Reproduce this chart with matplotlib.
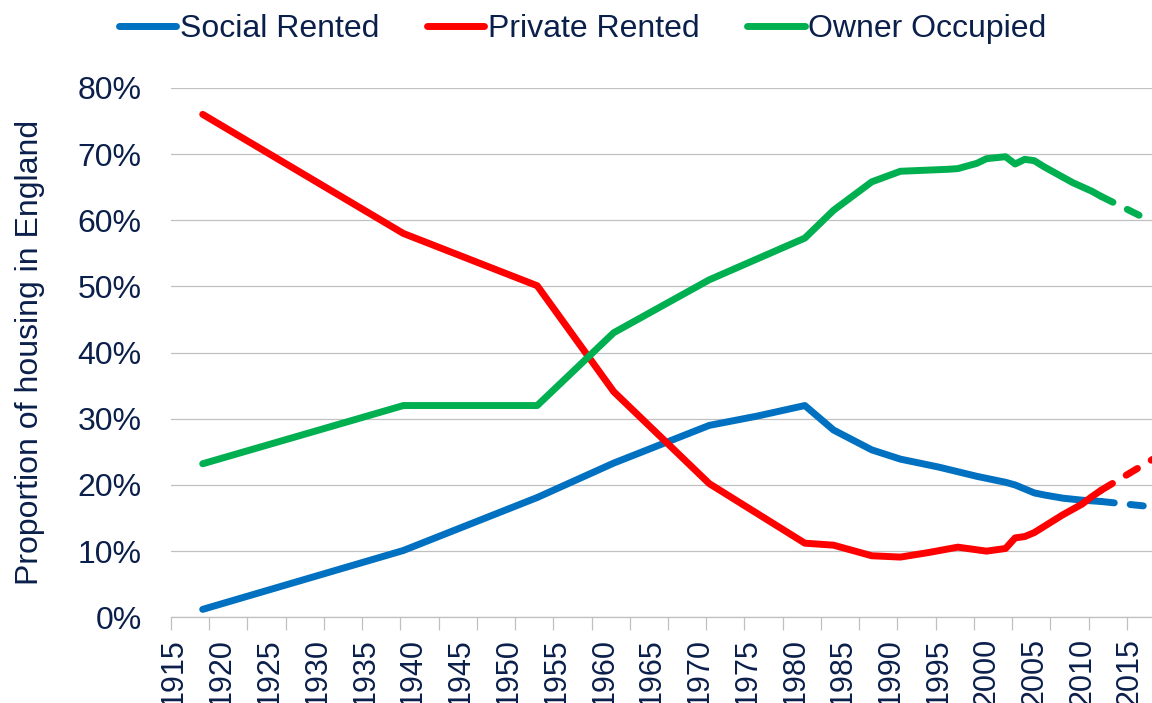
import numpy as np
import matplotlib.pyplot as plt
from matplotlib.ticker import FixedLocator, PercentFormatter

# Data (percent of housing stock)
social_years = [1918, 1939, 1953, 1961, 1971, 1976, 1981, 1984, 1988, 1991, 1995,
                1999, 2002, 2003, 2005, 2006, 2008, 2010, 2012]
social_vals = [1.2, 10.1, 18.1, 23.3, 29.0, 30.4, 32.0, 28.3, 25.3, 23.9, 22.7,
               21.3, 20.4, 20.0, 18.8, 18.5, 18.0, 17.7, 17.5]
social_proj_years = [2012, 2018]
social_proj_vals = [17.5, 16.6]

private_years = [1918, 1939, 1953, 1961, 1971, 1981, 1984, 1988, 1991, 1994, 1997,
                 2000, 2002, 2003, 2004, 2005, 2006, 2007, 2008, 2009, 2010, 2011, 2012]
private_vals = [76.0, 58.0, 50.1, 34.1, 20.2, 11.2, 10.9, 9.3, 9.1, 9.8, 10.6,
                10.0, 10.4, 12.0, 12.2, 12.8, 13.7, 14.6, 15.5, 16.3, 17.1, 18.2, 19.2]
private_proj_years = [2012, 2018]
private_proj_vals = [19.2, 24.4]

owner_years = [1918, 1939, 1953, 1961, 1971, 1981, 1984, 1988, 1991, 1996, 1997,
               1999, 2000, 2002, 2003, 2004, 2005, 2006, 2007, 2009, 2011, 2012]
owner_vals = [23.2, 32.0, 32.0, 43.0, 51.0, 57.3, 61.5, 65.8, 67.4, 67.7, 67.8,
              68.6, 69.3, 69.6, 68.5, 69.2, 69.0, 68.1, 67.3, 65.7, 64.4, 63.6]
owner_proj_years = [2012, 2018]
owner_proj_vals = [63.6, 59.3]

label_years = list(range(1915, 2020, 5))
y_ticks = [0, 10, 20, 30, 40, 50, 60, 70, 80]

navy = '#0b1f4b'
blue, red, green = '#0070C0', '#FF0000', '#00B050'

plt.rcParams['font.family'] = ['Liberation Sans', 'DejaVu Sans']

fig = plt.figure(figsize=(11.52, 7.03), dpi=100)
ax = fig.add_axes([0.1484, 0.1219, 1 - 0.1484, 0.875 - 0.1219])

lw = 5.0
series = [
    ('Social Rented', blue, social_years, social_vals, social_proj_years, social_proj_vals),
    ('Private Rented', red, private_years, private_vals, private_proj_years, private_proj_vals),
    ('Owner Occupied', green, owner_years, owner_vals, owner_proj_years, owner_proj_vals),
]
for name, col, xs, ys, pxs, pys in series:
    ax.plot(xs, ys, color=col, lw=lw, solid_capstyle='round', solid_joinstyle='round',
            label=name, zorder=3)
    ax.plot(pxs, pys, color=col, lw=lw, dashes=(1.9, 2.3), dash_capstyle='round', zorder=3)

ax.set_xlim(1914.68, 2017.32)
ax.set_ylim(0, 80)

ax.yaxis.set_major_locator(FixedLocator(y_ticks))
ax.yaxis.set_major_formatter(PercentFormatter(decimals=0))
ax.grid(axis='y', color='#c0c0c0', lw=0.9, zorder=0)
ax.tick_params(axis='y', length=0, pad=21, labelsize=23, labelcolor=navy)

ax.xaxis.set_major_locator(FixedLocator(label_years))
ax.set_xticklabels([str(y) for y in label_years], rotation=90)
ax.xaxis.set_minor_locator(FixedLocator(np.arange(1914.68, 2017.4, 4)))
ax.tick_params(axis='x', which='major', length=0, pad=15, labelsize=22, labelcolor=navy)
ax.tick_params(axis='x', which='minor', length=9, width=0.9, color='#c0c0c0', direction='out')

for s in ['top', 'right', 'left']:
    ax.spines[s].set_visible(False)
ax.spines['bottom'].set_color('#c0c0c0')
ax.spines['bottom'].set_linewidth(0.9)

ax.set_ylabel('Proportion of housing in England', fontsize=23, color=navy)
ax.yaxis.set_label_coords(-0.128, 0.5)

fig.legend(loc='center', bbox_to_anchor=(0.5056, 0.959), ncol=3, frameon=False,
           fontsize=23, handlelength=1.8, handletextpad=0.1, columnspacing=1.5,
           labelcolor=navy)

fig.savefig('out.png', dpi=100)
